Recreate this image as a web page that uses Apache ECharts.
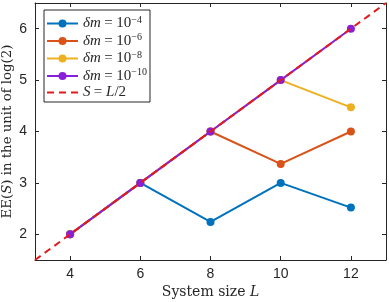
<!DOCTYPE html>
<html><head><meta charset="utf-8">
<script src="https://cdn.jsdelivr.net/npm/echarts@6/dist/echarts.min.js"></script>
<style>html,body{margin:0;padding:0;background:#fff}#c{width:389px;height:302px}</style>
</head><body><div id="c"></div>
<script>
const L = [4, 6, 8, 10, 12];
const dm4 = [2, 3, 2.24, 3, 2.52];
const dm6 = [2, 3, 4, 3.37, 4];
const dm8 = [2, 3, 4, 5, 4.47];
const dm10 = [2, 3, 4, 5, 6];
const refL = [3, 13];
const refS = [1.5, 6.5];
const xTicks = [4, 6, 8, 10, 12];
const yTicks = [2, 3, 4, 5, 6];
const seriesNames = ['δm = 10^-4', 'δm = 10^-6', 'δm = 10^-8', 'δm = 10^-10', 'S = L/2'];
const expLabels = ['−4', '−6', '−8', '−10'];
const colors = ['#0072BD', '#D95319', '#EDB120', '#8A1FD8', '#E31A1C'];
const sets = [dm4, dm6, dm8, dm10];

const serif = 'Liberation Serif';
const sans = 'Liberation Sans';
const axColor = '#262626';

const series = sets.map((d, i) => ({
  name: seriesNames[i], type: 'line',
  data: L.map((x, j) => [x, d[j]]),
  symbol: 'circle', symbolSize: 8,
  lineStyle: {width: 2, color: colors[i]},
  itemStyle: {color: colors[i]},
  z: 2 + i
}));
series.push({
  name: seriesNames[4], type: 'line',
  data: refL.map((x, j) => [x, refS[j]]),
  symbol: 'none', lineStyle: {width: 2, type: [7, 5], color: colors[4]},
  itemStyle: {color: colors[4]}, z: 10
});

const chart = echarts.init(document.getElementById('c'));
const baseX = {type: 'value', min: 3, max: 13, interval: 1,
  axisLine: {show: true, onZero: false, lineStyle: {color: axColor, width: 1}},
  axisTick: {show: true, inside: true, length: 4, customValues: xTicks, lineStyle: {color: axColor}},
  splitLine: {show: false}};
const baseY = {type: 'value', min: 1.5, max: 6.5, interval: 0.5,
  axisLine: {show: true, onZero: false, lineStyle: {color: axColor, width: 1}},
  axisTick: {show: true, inside: true, length: 4, customValues: yTicks, lineStyle: {color: axColor}},
  splitLine: {show: false}};

const xNameRich = {
  t: {fontFamily: 'DejaVu Serif', fontSize: 14, color: axColor},
  i: {fontFamily: 'DejaVu Serif', fontStyle: 'italic', fontSize: 14, color: axColor}
};
const yNameRich = {
  t: {fontFamily: 'DejaVu Serif', fontSize: 13.3, color: axColor},
  i: {fontFamily: 'DejaVu Serif', fontStyle: 'italic', fontSize: 13.3, color: axColor}
};

chart.setOption({
  animation: false,
  backgroundColor: '#fff',
  grid: {left: 35, right: 3, top: 3, bottom: 42, containLabel: false, outerBoundsMode: 'none'},
  legend: {
    orient: 'vertical', left: 44, top: 10,
    backgroundColor: '#fff', borderColor: axColor, borderWidth: 1,
    padding: [5, 3, 2, 2], itemGap: 1.5, itemWidth: 31, itemHeight: 10,
    data: seriesNames.map((n, i) => i < 4 ? {name: n} : {name: n, itemStyle: {opacity: 0}}),
    formatter: function (n) {
      const k = seriesNames.indexOf(n);
      if (k < 4) return '{i|δm} {t|= 10}{s|' + expLabels[k] + '}';
      return '{i|S} {t|= }{i|L}{t|/2}';
    },
    textStyle: {
      rich: {
        i: {fontFamily: serif, fontStyle: 'italic', fontSize: 15, color: axColor},
        t: {fontFamily: serif, fontSize: 15, color: axColor},
        s: {fontFamily: serif, fontSize: 10, color: axColor, verticalAlign: 'top', padding: [0, 0, 7, 0]}
      }
    }
  },
  xAxis: [
    Object.assign({}, baseX, {position: 'bottom',
      axisLabel: {show: true, customValues: xTicks, color: axColor, fontFamily: sans, fontSize: 14, margin: 7},
      name: '{t|System size }{i|L}', nameLocation: 'middle', nameGap: 25, nameMoveOverlap: false,
      nameTextStyle: {rich: xNameRich}}),
    Object.assign({}, baseX, {position: 'top', axisLabel: {show: false}})
  ],
  yAxis: [
    Object.assign({}, baseY, {position: 'left',
      axisLabel: {show: true, customValues: yTicks, color: axColor, fontFamily: sans, fontSize: 14, margin: 8},
      name: '{t|EE(}{i|S}{t|) in the unit of log(2)}', nameLocation: 'middle', nameGap: 21, nameRotate: 90,
      nameMoveOverlap: false,
      nameTextStyle: {rich: yNameRich}}),
    Object.assign({}, baseY, {position: 'right', axisLabel: {show: false}})
  ],
  series: series
});
</script></body></html>
